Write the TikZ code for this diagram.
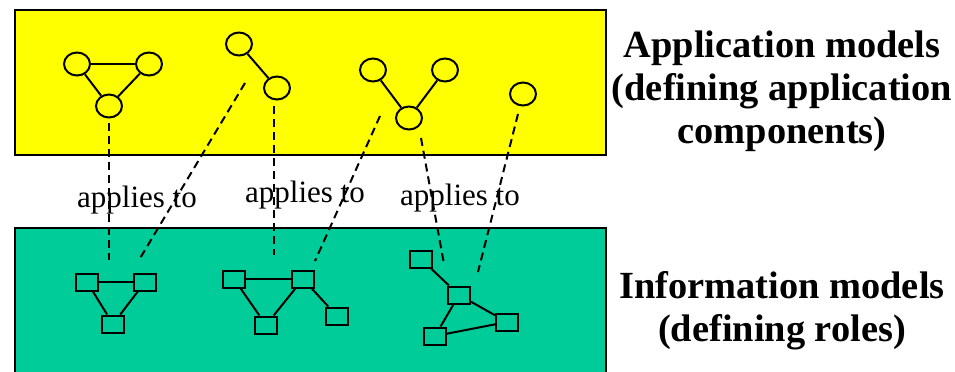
\documentclass[tikz,border=0pt]{standalone}
\usepackage{fontspec}
\setmainfont{Liberation Serif}
\usetikzlibrary{shapes.geometric}
\definecolor{appyellow}{RGB}{255,255,0}
\definecolor{modelgreen}{RGB}{0,204,153}
\begin{document}
\begin{tikzpicture}[x=0.5pt,y=-0.5pt,line width=1pt,
    comp/.style={ellipse,draw,fill=appyellow,minimum width=13pt,minimum height=11.5pt,inner sep=0pt},
    role/.style={rectangle,draw,fill=modelgreen,minimum width=11pt,minimum height=8.5pt,inner sep=0pt},
    link/.style={line width=1pt,dash pattern=on 4pt off 2.5pt},
    applies/.style={anchor=base,font=\fontsize{15.5}{18}\selectfont},
    title/.style={align=center,font=\bfseries\fontsize{19.2}{21.5}\selectfont}]
    \useasboundingbox (0,0) rectangle (955,371);
    \draw[fill=appyellow] (15,10) rectangle (606,155);
    \draw[fill=modelgreen] (15,228) rectangle (606,400);

    % application components
    \node (c1) at (77,64) [comp] {};
    \node (c2) at (149,64) [comp] {};
    \node (c3) at (109,106) [comp] {};
    \node (c4) at (239,44) [comp] {};
    \node (c5) at (277,88) [comp] {};
    \node (c6) at (373,70) [comp] {};
    \node (c7) at (445,70) [comp] {};
    \node (c8) at (409,118) [comp] {};
    \node (c9) at (523,94) [comp] {};
    \foreach \a/\b in {c1/c2,c1/c3,c2/c3,c4/c5,c6/c8,c7/c8}
      \draw (\a) -- (\b);

    % roles
    \node (r1) at (87,282) [role] {};
    \node (r2) at (145,282) [role] {};
    \node (r3) at (113,324) [role] {};
    \node (r4) at (234,279) [role] {};
    \node (r5) at (303,279) [role] {};
    \node (r6) at (266,325) [role] {};
    \node (r7) at (337,316) [role] {};
    \node (r8) at (421,259) [role] {};
    \node (r9) at (459,295) [role] {};
    \node (r10) at (507,322) [role] {};
    \node (r11) at (435,336) [role] {};
    \foreach \a/\b in {r1/r2,r1/r3,r2/r3,r4/r5,r4/r6,r5/r6,r5/r7,r8/r9,r9/r10,r9/r11,r11/r10}
      \draw (\a) -- (\b);

    \node (a1) at (137,207) [applies] {applies to};
    \node (a2) at (305,202) [applies] {applies to};
    \node (a3) at (460,205) [applies] {applies to};

    \coordinate (u1) at (109,123); \coordinate (l1) at (109,260);
    \coordinate (u2) at (245,83);  \coordinate (l2) at (139,260);
    \coordinate (u3) at (274,106); \coordinate (l3) at (274,255);
    \coordinate (u4) at (380,116); \coordinate (l4) at (315,261);
    \coordinate (u5) at (421,138); \coordinate (l5) at (444,264);
    \coordinate (u6) at (518,114); \coordinate (l6) at (478,272);
    \foreach \i in {1,...,6}
      \draw[link] (u\i) -- (l\i);

    \node (app) at (782,91) [title] {Application models\\(defining application\\components)};
    \node (info) at (782,311) [title] {Information models\\(defining roles)};
  \end{tikzpicture}
\end{document}
